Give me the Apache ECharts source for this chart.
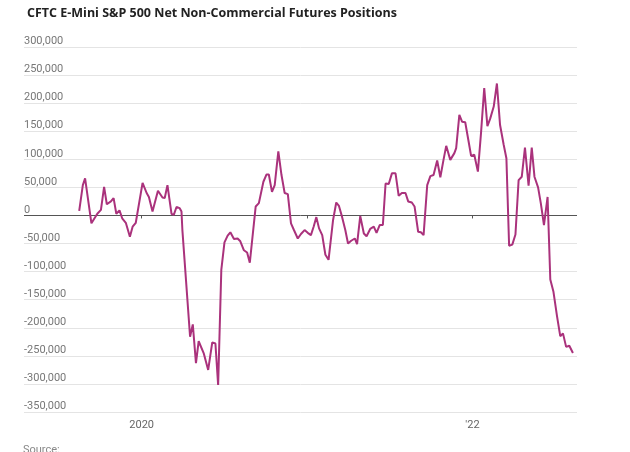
<!DOCTYPE html>
<html>
<head>
<meta charset="utf-8">
<script src="https://cdn.jsdelivr.net/npm/echarts@6/dist/echarts.min.js"></script>
<style>
html,body{margin:0;padding:0;background:#fff;}
#chart{width:630px;height:452px;}
</style>
</head>
<body>
<div id="chart"></div>
<script>
const titleText = 'CFTC E-Mini S&P 500 Net Non-Commercial Futures Positions';
const sourceText = 'Source:';
const yTicks = { min: -350000, max: 300000, step: 50000 };
const xRange = ['2019-04-16', '2022-08-20'];
const xLabels = { 2020: '2020', 2021: '', 2022: "'22" };

const dates = [
'2019-08-16','2019-08-24','2019-08-29','2019-09-12','2019-09-16','2019-09-25','2019-10-03','2019-10-10','2019-10-16','2019-10-25',
'2019-10-31','2019-11-06','2019-11-13','2019-11-19','2019-11-27','2019-12-06','2019-12-12','2019-12-19','2020-01-03','2020-01-12',
'2020-01-17','2020-01-25','2020-02-06','2020-02-16','2020-02-21','2020-02-27','2020-03-07','2020-03-12','2020-03-18','2020-03-25',
'2020-03-29','2020-03-31','2020-04-17','2020-04-23','2020-04-30','2020-05-06','2020-05-17','2020-05-27','2020-06-05','2020-06-12',
'2020-06-18','2020-06-25','2020-07-02','2020-07-09','2020-07-15','2020-07-23','2020-07-31','2020-08-06','2020-08-14','2020-08-21',
'2020-08-27','2020-09-09','2020-09-16','2020-09-26','2020-10-03','2020-10-08','2020-10-15','2020-10-21','2020-10-29','2020-11-05',
'2020-11-12','2020-11-19','2020-11-26','2020-12-02','2020-12-11','2020-12-18','2020-12-26','2021-01-02','2021-01-09','2021-01-15',
'2021-01-21','2021-01-27','2021-02-03','2021-02-10','2021-02-17','2021-02-27','2021-03-06','2021-03-12','2021-03-19','2021-03-26',
'2021-04-01','2021-04-08','2021-04-16','2021-04-21','2021-04-28','2021-05-06','2021-05-12','2021-05-20','2021-05-28','2021-06-03',
'2021-06-10','2021-06-17','2021-06-23','2021-06-30','2021-07-07','2021-07-15','2021-07-22','2021-07-29','2021-08-06','2021-08-12',
'2021-08-20','2021-08-26','2021-09-03','2021-09-09','2021-09-15','2021-09-23','2021-09-30','2021-10-07','2021-10-15','2021-10-22',
'2021-10-29','2021-11-04','2021-11-13','2021-11-22','2021-11-26','2021-12-03','2021-12-09','2021-12-16','2021-12-23','2021-12-29',
'2022-01-05','2022-01-13','2022-01-20','2022-01-27','2022-02-03','2022-02-09','2022-02-17','2022-02-24','2022-03-03','2022-03-11',
'2022-03-17','2022-03-23','2022-03-30','2022-04-06','2022-04-13','2022-04-20','2022-04-27','2022-05-05','2022-05-12','2022-05-18',
'2022-05-26','2022-06-01','2022-06-08','2022-06-16','2022-06-22','2022-06-29','2022-07-07','2022-07-14','2022-07-20','2022-07-27',
'2022-08-03','2022-08-11'
];

const positions = [
8000,54000,66000,-14000,-12000,3000,10000,51000,20000,25000,
31000,3000,9000,-5000,-13000,-38000,-20000,-13000,58000,40000,
33000,7000,44000,32000,31000,54000,3000,1000,15000,13000,
7000,-26000,-216000,-194000,-263000,-224000,-245000,-275000,-226000,-228000,
-302000,-97000,-48000,-36000,-30000,-42000,-41000,-46000,-62000,-66000,
-84000,16000,22000,60000,73000,73000,42000,54000,114000,72000,
40000,38000,-14000,-25000,-41000,-33000,-26000,-31000,-35000,-20000,
-3000,-23000,-35000,-70000,-79000,-8000,23000,17000,-3000,-26000,
-50000,-45000,-41000,-51000,-1000,-32000,-37000,-24000,-20000,-31000,
-17000,-17000,57000,56000,75000,75000,35000,40000,40000,25000,
23000,16000,-29000,-30000,-35000,54000,70000,72000,98000,68000,
99000,124000,99000,111000,120000,179000,167000,166000,134000,106000,
108000,78000,148000,227000,159000,172000,194000,235000,161000,126000,
102000,-54000,-52000,-34000,63000,69000,121000,53000,121000,69000,
50000,22000,-17000,33000,-114000,-136000,-180000,-215000,-210000,-234000,
-232000,-245000
];

const seriesData = dates.map((d, i) => [d, positions[i]]);

const chart = echarts.init(document.getElementById('chart'), null, { renderer: 'canvas' });
const labelFont = 'Roboto, "Liberation Sans", sans-serif';
const YEAR = 365 * 24 * 3600 * 1000;

chart.setOption({
  animation: false,
  backgroundColor: '#ffffff',
  title: {
    text: titleText,
    left: 22,
    top: 2,
    textStyle: { fontFamily: '"Open Sans", "Liberation Sans", sans-serif', fontSize: 12.5, fontWeight: 'bold', color: '#222' }
  },
  graphic: [{
    type: 'text', left: 23, top: 445,
    style: { text: sourceText, fontFamily: labelFont, fontSize: 11, fill: '#888' }
  }],
  grid: { left: 24, right: 53, top: 47, bottom: 40, containLabel: false },
  xAxis: {
    type: 'time',
    min: xRange[0],
    max: xRange[1],
    minInterval: YEAR,
    maxInterval: YEAR + 2 * 24 * 3600 * 1000,
    axisLine: { show: false },
    axisTick: { show: true, length: 3, lineStyle: { color: '#555', width: 1 } },
    splitLine: { show: false },
    axisLabel: {
      margin: 8,
      fontFamily: labelFont, fontSize: 11, color: '#666',
      showMinLabel: false, showMaxLabel: false,
      formatter: function (v) {
        const y = new Date(v).getFullYear();
        return xLabels[y] !== undefined ? xLabels[y] : '';
      }
    }
  },
  yAxis: {
    type: 'value',
    min: yTicks.min, max: yTicks.max, interval: yTicks.step,
    axisLine: { show: false },
    axisTick: { show: false },
    splitLine: { show: true, lineStyle: { color: '#e4e4e4', width: 1 } },
    axisLabel: {
      inside: true, margin: 0, align: 'left', verticalAlign: 'bottom',
      lineHeight: 11,
      fontFamily: labelFont, fontSize: 11, color: '#777',
      formatter: function (v) { return v.toLocaleString('en-US'); }
    }
  },
  series: [{
    type: 'line',
    data: seriesData,
    showSymbol: false,
    symbol: 'none',
    lineStyle: { color: '#aa327c', width: 2 },
    z: 3,
    markLine: {
      silent: true, symbol: 'none', animation: false,
      label: { show: false },
      lineStyle: { color: '#555', width: 1, type: 'solid' },
      data: [{ yAxis: 0 }],
      z: 2
    }
  }]
});
</script>
</body>
</html>
